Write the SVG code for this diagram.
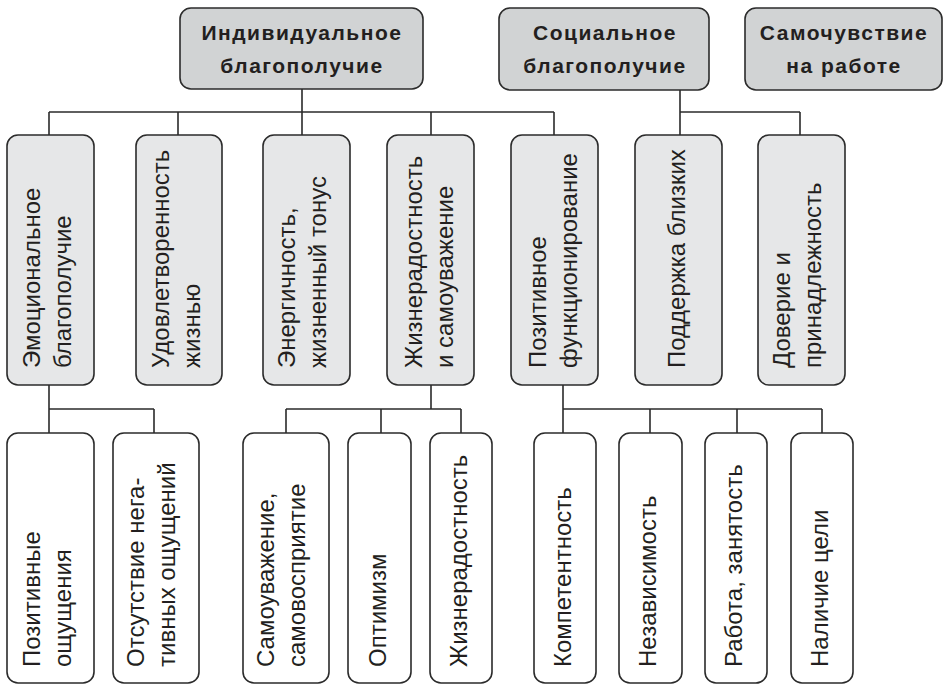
<svg xmlns="http://www.w3.org/2000/svg" width="944" height="685" viewBox="0 0 944 685">
<style>
.hdr{fill:#d1d3d4;stroke:#2b2b2b;stroke-width:1.6}
.mid{fill:#e6e7e8;stroke:#2b2b2b;stroke-width:1.6}
.low{fill:#ffffff;stroke:#2b2b2b;stroke-width:1.6}
.ht{font-family:"Liberation Sans",Arial,sans-serif;font-weight:bold;font-size:21px;fill:#231f20;text-anchor:middle;letter-spacing:1.5px}
.vt{font-family:"Liberation Sans",Arial,sans-serif;font-size:24px;fill:#231f20}
.ln{fill:none;stroke:#2b2b2b;stroke-width:1.6}
</style>
<rect width="944" height="685" fill="#ffffff"/>
<g id="connectors" class="ln">
<path d="M302,89V112M49,112H554M49,112V135M178,112V135M302,112V135M431,112V135M554,112V135"/>
<path d="M680,90V112M680,112H800M680,112V135M800,112V135"/>
<path d="M49,385V433M49,409H154M154,409V433"/>
<path d="M431,385V409M286,409H461M286,409V433M381,409V433M461,409V433"/>
<path d="M563,385V433M563,409H822M650,409V433M737,409V433M822,409V433"/>
</g>
<g id="n-individ"><rect class="hdr" x="180" y="8" width="243" height="81" rx="11"/><text class="ht"><tspan x="302" y="40">Индивидуальное</tspan><tspan x="302" y="73">благополучие</tspan></text></g>
<g id="n-social"><rect class="hdr" x="499" y="8" width="210" height="82" rx="11"/><text class="ht"><tspan x="605" y="40">Социальное</tspan><tspan x="605" y="73">благополучие</tspan></text></g>
<g id="n-work"><rect class="hdr" x="745" y="8" width="197" height="82" rx="11"/><text class="ht"><tspan x="844" y="40">Самочувствие</tspan><tspan x="844" y="73">на работе</tspan></text></g>

<g id="n-emo"><rect class="mid" x="7" y="135" width="87" height="250" rx="11"/><text class="vt" transform="translate(40,368) rotate(-90)"><tspan x="0" y="0">Эмоциональное</tspan><tspan x="0" y="31">благополучие</tspan></text></g>
<g id="n-sat"><rect class="mid" x="136" y="135" width="86" height="250" rx="11"/><text class="vt" transform="translate(169,368) rotate(-90)"><tspan x="0" y="0">Удовлетворенность</tspan><tspan x="0" y="31">жизнью</tspan></text></g>
<g id="n-energy"><rect class="mid" x="263" y="135" width="87" height="250" rx="11"/><text class="vt" transform="translate(295,368) rotate(-90)"><tspan x="0" y="0">Энергичность,</tspan><tspan x="0" y="31">жизненный тонус</tspan></text></g>
<g id="n-joy"><rect class="mid" x="387" y="135" width="87" height="250" rx="11"/><text class="vt" transform="translate(422,368) rotate(-90)"><tspan x="0" y="0">Жизнерадостность</tspan><tspan x="0" y="31">и самоуважение</tspan></text></g>
<g id="n-func"><rect class="mid" x="511" y="135" width="87" height="250" rx="11"/><text class="vt" transform="translate(546,368) rotate(-90)"><tspan x="0" y="0">Позитивное</tspan><tspan x="0" y="31">функционирование</tspan></text></g>
<g id="n-support"><rect class="mid" x="635" y="135" width="87" height="250" rx="11"/><text class="vt" transform="translate(685,368) rotate(-90)">Поддержка близких</text></g>
<g id="n-trust"><rect class="mid" x="758" y="135" width="87" height="250" rx="11"/><text class="vt" transform="translate(790,368) rotate(-90)"><tspan x="0" y="0">Доверие и</tspan><tspan x="0" y="31">принадлежность</tspan></text></g>

<g id="n-pos"><rect class="low" x="7" y="433" width="87" height="250" rx="11"/><text class="vt" transform="translate(40,667) rotate(-90)"><tspan x="0" y="0">Позитивные</tspan><tspan x="0" y="31">ощущения</tspan></text></g>
<g id="n-neg"><rect class="low" x="113" y="433" width="86" height="250" rx="11"/><text class="vt" transform="translate(144,667) rotate(-90)"><tspan x="0" y="0">Отсутствие нега-</tspan><tspan x="0" y="31">тивных ощущений</tspan></text></g>
<g id="n-selfesteem"><rect class="low" x="243" y="433" width="86" height="250" rx="11"/><text class="vt" transform="translate(274,667) rotate(-90)"><tspan x="0" y="0">Самоуважение,</tspan><tspan x="0" y="31">самовосприятие</tspan></text></g>
<g id="n-optim"><rect class="low" x="348" y="433" width="63" height="250" rx="11"/><text class="vt" transform="translate(386,667) rotate(-90)">Оптимизм</text></g>
<g id="n-cheer"><rect class="low" x="430" y="433" width="62" height="250" rx="11"/><text class="vt" transform="translate(467,667) rotate(-90)">Жизнерадостность</text></g>
<g id="n-compet"><rect class="low" x="534" y="433" width="62" height="250" rx="11"/><text class="vt" transform="translate(571,667) rotate(-90)">Компетентность</text></g>
<g id="n-indep"><rect class="low" x="619" y="433" width="63" height="250" rx="11"/><text class="vt" transform="translate(656,667) rotate(-90)">Независимость</text></g>
<g id="n-job"><rect class="low" x="705" y="433" width="62" height="250" rx="11"/><text class="vt" transform="translate(742,667) rotate(-90)">Работа, занятость</text></g>
<g id="n-goal"><rect class="low" x="791" y="433" width="62" height="250" rx="11"/><text class="vt" transform="translate(828,667) rotate(-90)">Наличие цели</text></g>
</svg>
